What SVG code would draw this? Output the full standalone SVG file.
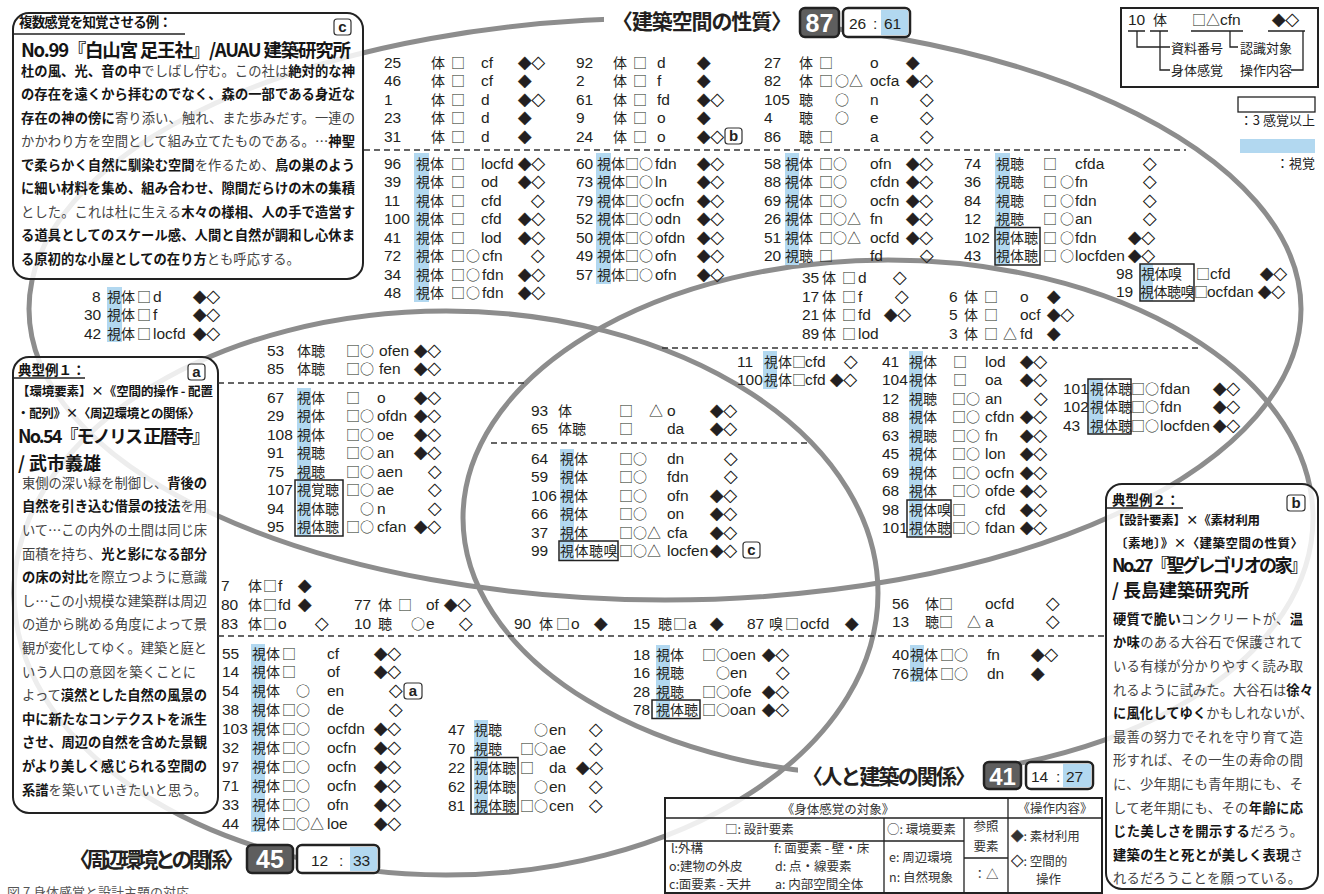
<svg xmlns="http://www.w3.org/2000/svg" width="1324" height="894" viewBox="0 0 1324 894">
<defs>
<style>
.ell{fill:none;stroke:#8d8d8d;stroke-width:5}
.dash{stroke:#333;stroke-width:1.5;stroke-dasharray:6 4;fill:none}
.hl{fill:#b2d8f0}
.sb{fill:none;stroke:#222;stroke-width:1.5}
.r{font-family:"Liberation Sans","Noto Sans CJK JP",sans-serif;font-size:15.5px;fill:#231f20}
.k{font-family:"Noto Sans CJK JP",sans-serif;font-size:14px}
.d{font-family:"Noto Sans CJK JP",sans-serif;font-size:13.5px;stroke:#231f20;stroke-width:.4}
.box{fill:#fff;fill-opacity:.84;stroke:#222;stroke-width:2}
.p{font-family:"Noto Sans CJK JP",sans-serif;font-size:13.3px;fill:#444}
.b{font-weight:700;fill:#151515}
.h{font-family:"Noto Sans CJK JP",sans-serif;font-weight:700;fill:#151515}
.lab{font-family:"Noto Sans CJK JP",sans-serif;font-weight:700;font-size:21px;fill:#231f20}
.tg rect{fill:#fff;stroke:#333;stroke-width:1.2}
.tg text{font-family:"Liberation Sans",sans-serif;font-weight:700;font-size:15px;text-anchor:middle;fill:#222}
.tb{font-family:"Noto Sans CJK JP",sans-serif;font-size:12.5px;fill:#333}
.sk{stroke:#333;stroke-width:.4}
.lg{font-family:"Noto Sans CJK JP",sans-serif;font-size:13px;fill:#222}
.ln{stroke:#222;stroke-width:1.3;fill:none}
</style>
</defs>
<rect width="1324" height="894" fill="#fff"/>

<g id="set-outlines" class="ell">
<ellipse cx="665" cy="309" rx="636" ry="291"/>
<ellipse cx="888" cy="518" rx="425" ry="258"/>
<ellipse cx="446" cy="593" rx="432" ry="282"/>
</g>
<g id="label-masks" fill="#fff">
<rect x="604" y="4" width="200" height="32"/>
<rect x="798" y="764" width="186" height="26"/>
</g>

<g id="box-c">
<rect class="box" x="13" y="13" width="350" height="266" rx="16"/>
<text class="h" x="19" y="27" font-size="13.5" textLength="153">複数感覚を知覚させる例：</text>
<line class="ln" x1="13" y1="34" x2="185" y2="34"/>
<g class="tg"><rect x="334" y="19" width="17" height="16" rx="3"/><text x="342.5" y="32">c</text></g>
<text class="h" x="21" y="57" font-size="18.5" textLength="330">No.99『白山宮 足王社』/AUAU 建築研究所</text>
<text class="p" x="21" y="75.7" textLength="334"><tspan class="b">杜の風、光、音の中</tspan>でしばし佇む。この社は<tspan class="b">絶対的な神</tspan></text>
<text class="p" x="21" y="99.2" textLength="334"><tspan class="b">の存在を遠くから拝むのでなく、森の一部である身近な</tspan></text>
<text class="p" x="21" y="122.7" textLength="334"><tspan class="b">存在の神の傍に</tspan>寄り添い、触れ、また歩みだす。一連の</text>
<text class="p" x="21" y="146.2" textLength="334">かかわり方を空間として組み立てたものである。…<tspan class="b">神聖</tspan></text>
<text class="p" x="21" y="169.7" textLength="334"><tspan class="b">で柔らかく自然に馴染む空間</tspan>を作るため、<tspan class="b">鳥の巣のよう</tspan></text>
<text class="p" x="21" y="193.2" textLength="334"><tspan class="b">に細い材料を集め、組み合わせ、隙間だらけの木の集積</tspan></text>
<text class="p" x="21" y="216.7" textLength="334">とした。これは杜に生える<tspan class="b">木々の様相、人の手で造営す</tspan></text>
<text class="p" x="21" y="240.2" textLength="334"><tspan class="b">る道具としてのスケール感、人間と自然が調和し心休ま</tspan></text>
<text class="p" x="21" y="263.7"><tspan class="b">る原初的な小屋としての在り方</tspan>とも呼応する。</text>
</g>

<g id="box-a">
<rect class="box" x="13" y="357" width="205" height="456" rx="16"/>
<text class="h" x="18" y="375" font-size="13.5">典型例１：</text>
<line class="ln" x1="13" y1="378" x2="85" y2="378"/>
<g class="tg"><rect x="188" y="364" width="17" height="16" rx="3"/><text x="196.5" y="377">a</text></g>
<text class="h" x="17" y="395.5" font-size="12.5" textLength="196">【環境要素】×《空間的操作 - 配置</text>
<text class="h" x="17" y="417.5" font-size="12.5" textLength="183">・配列》×〈周辺環境との関係〉</text>
<text class="h" x="18" y="442.5" font-size="18" textLength="192">No.54『モノリス 正暦寺』</text>
<text class="h" x="18" y="469.5" font-size="18">/ 武市義雄</text>
<text class="p" x="22" y="487.7" textLength="185">東側の深い緑を制御し、<tspan class="b">背後の</tspan></text>
<text class="p" x="22" y="511.3" textLength="185"><tspan class="b">自然を引き込む借景の技法</tspan>を用</text>
<text class="p" x="22" y="534.9" textLength="185">いて…この内外の土間は同じ床</text>
<text class="p" x="22" y="558.5" textLength="185">面積を持ち、<tspan class="b">光と影になる部分</tspan></text>
<text class="p" x="22" y="582.1" textLength="185"><tspan class="b">の床の対比</tspan>を際立つように意識</text>
<text class="p" x="22" y="605.7" textLength="185">し…この小規模な建築群は周辺</text>
<text class="p" x="22" y="629.3" textLength="185">の道から眺める角度によって景</text>
<text class="p" x="22" y="652.9" textLength="185">観が変化してゆく。建築と庭と</text>
<text class="p" x="22" y="676.5" textLength="174">いう人口の意図を築くことに</text>
<text class="p" x="22" y="700.1" textLength="185">よって<tspan class="b">漠然とした自然の風景の</tspan></text>
<text class="p" x="22" y="723.7" textLength="185"><tspan class="b">中に新たなコンテクストを派生</tspan></text>
<text class="p" x="22" y="747.3" textLength="185"><tspan class="b">させ、周辺の自然を含めた景観</tspan></text>
<text class="p" x="22" y="770.9" textLength="185"><tspan class="b">がより美しく感じられる空間の</tspan></text>
<text class="p" x="22" y="794.5" textLength="185"><tspan class="b">系譜</tspan>を築いていきたいと思う。</text>
</g>

<g id="box-b">
<rect class="box" x="1106" y="484" width="212" height="405" rx="16"/>
<text class="h" x="1112" y="505" font-size="13.5">典型例２：</text>
<line class="ln" x1="1106" y1="508" x2="1183" y2="508"/>
<g class="tg"><rect x="1287" y="495" width="18" height="16" rx="3"/><text x="1296" y="508">b</text></g>
<text class="h" x="1112" y="524.5" font-size="12.5" textLength="148">【設計要素】×《素材利用</text>
<text class="h" x="1115" y="547.5" font-size="12.5" textLength="188">〔素地〕》×〈建築空間の性質〉</text>
<text class="h" x="1112" y="571.5" font-size="18" textLength="196">No.27『聖グレゴリオの家』</text>
<text class="h" x="1112" y="596.5" font-size="18">/ 長島建築研究所</text>
<text class="p" x="1113" y="623.7" textLength="190"><tspan class="b">硬質で脆い</tspan>コンクリートが、<tspan class="b">温</tspan></text>
<text class="p" x="1113" y="647.3" textLength="190"><tspan class="b">か味</tspan>のある大谷石で保護されて</text>
<text class="p" x="1113" y="670.9" textLength="190">いる有様が分かりやすく読み取</text>
<text class="p" x="1113" y="694.5" textLength="200">れるように試みた。大谷石は<tspan class="b">徐々</tspan></text>
<text class="p" x="1113" y="718.1" textLength="200"><tspan class="b">に風化してゆく</tspan>かもしれないが、</text>
<text class="p" x="1113" y="741.7" textLength="190">最善の努力でそれを守り育て造</text>
<text class="p" x="1113" y="765.3" textLength="190">形すれば、その一生の寿命の間</text>
<text class="p" x="1113" y="788.9" textLength="190">に、少年期にも青年期にも、そ</text>
<text class="p" x="1113" y="812.5" textLength="190">して老年期にも、その<tspan class="b">年齢に応</tspan></text>
<text class="p" x="1113" y="836.1" textLength="190"><tspan class="b">じた美しさを開示する</tspan>だろう。</text>
<text class="p" x="1113" y="859.7" textLength="190"><tspan class="b">建築の生と死とが美しく表現</tspan>さ</text>
<text class="p" x="1113" y="883.3" textLength="188">れるだろうことを願っている。</text>
</g>

<g id="legend">
<rect x="1121" y="8" width="197" height="79" fill="#fff" stroke="#222" stroke-width="2"/>
<text class="r" y="25"><tspan x="1128">10</tspan><tspan class="k" x="1153">体</tspan><tspan class="k" x="1192">□△</tspan><tspan x="1220">cfn</tspan><tspan class="d" x="1272">◆◇</tspan></text>
<path class="ln" d="M1128 31H1145M1150 31H1168M1191 31H1243M1268 31H1305"/>
<path class="ln" d="M1137 31V47H1170M1160 31V70H1170M1230 31V47H1238M1291 70H1303V31"/>
<text class="lg" x="1171" y="52.5">資料番号</text>
<text class="lg" x="1240" y="52.5">認識対象</text>
<text class="lg" x="1171" y="75">身体感覚</text>
<text class="lg" x="1240" y="75">操作内容</text>
<rect x="1238" y="97" width="77" height="15" fill="#fff" stroke="#222" stroke-width="1.3"/>
<text class="lg" x="1315" y="124.5" text-anchor="end">：3 感覚以上</text>
<rect class="hl" x="1240" y="139" width="75" height="14"/>
<text class="lg" x="1315" y="168" text-anchor="end">：視覚</text>
</g>

<g id="table">
<rect x="665" y="798" width="437" height="95" fill="#fff" fill-opacity=".85" stroke="#222" stroke-width="2"/>
<path class="ln" d="M665 818H1102M665 841H964M964 858H1008M884 818V893M964 818V893M1008 798V893"/>
<text class="tb" x="838" y="813.5" text-anchor="middle">《身体感覚の対象》</text>
<text class="tb" x="725" y="833.5">□: 設計要素</text>
<text class="tb" x="671" y="852.5">l:外構</text>
<text class="tb" x="774" y="852.5">f: 面要素 - 壁・床</text>
<text class="tb" x="669" y="870.5">o:建物の外皮</text>
<text class="tb" x="775" y="870.5">d: 点・線要素</text>
<text class="tb" x="669" y="888.5">c:面要素 - 天井</text>
<text class="tb" x="775" y="888.5">a: 内部空間全体</text>
<text class="tb" x="887" y="833.5">○: 環境要素</text>
<text class="tb" x="889" y="862">e: 周辺環境</text>
<text class="tb" x="889" y="882">n: 自然現象</text>
<text class="tb" x="986" y="830.5" text-anchor="middle">参照</text>
<text class="tb" x="986" y="850.5" text-anchor="middle">要素</text>
<text class="tb" x="986" y="878.5" text-anchor="middle">：△</text>
<text class="tb" x="1055" y="812.5" text-anchor="middle">《操作内容》</text>
<text class="tb" x="1011" y="840.5"><tspan class="sk">◆</tspan>: 素材利用</text>
<text class="tb" x="1011" y="865.5"><tspan class="sk">◇</tspan>: 空間的</text>
<text class="tb" x="1036" y="883.5">操作</text>
</g>

<g id="visual-marks">
<rect class="hl" x="414" y="153" width="15" height="149"/>
<rect class="hl" x="596" y="153" width="15" height="131"/>
<rect class="hl" x="785" y="153" width="14" height="112"/>
<rect class="hl" x="995" y="153" width="15" height="112"/>
<rect class="hl" x="107" y="287" width="15" height="55"/>
<rect class="hl" x="763" y="351" width="14" height="38"/>
<rect class="hl" x="909" y="351" width="14" height="186"/>
<rect class="hl" x="1089" y="379" width="14" height="55"/>
<rect class="hl" x="1140" y="264" width="13" height="37"/>
<rect class="hl" x="297" y="388" width="14" height="148"/>
<rect class="hl" x="560" y="449" width="14" height="111"/>
<rect class="hl" x="251" y="644" width="14" height="188"/>
<rect class="hl" x="656" y="645" width="14" height="74"/>
<rect class="hl" x="474" y="720" width="14" height="94"/>
<rect class="hl" x="910" y="645" width="14" height="37"/>
</g>
<g id="three-sense-marks" class="sb">
<rect x="995" y="227.5" width="45" height="37.5"/>
<rect x="1140" y="264" width="54" height="37"/>
<rect x="907" y="500" width="44" height="37"/>
<rect x="1088" y="379" width="43" height="55"/>
<rect x="295" y="480" width="48" height="56"/>
<rect x="559" y="541" width="59" height="19.5"/>
<rect x="652" y="700" width="48" height="18.5"/>
<rect x="471" y="757.5" width="47" height="56.5"/>
</g>
<g id="dividers" class="dash">
<line x1="364" y1="150" x2="1186" y2="150"/>
<line x1="662" y1="348" x2="1200" y2="348"/>
<line x1="218" y1="383" x2="527" y2="383"/>
<line x1="491" y1="443" x2="809" y2="443"/>
<line x1="218" y1="636" x2="1106" y2="636"/>
</g>

<g id="rows-top" class="r">
<text y="67.5"><tspan x="384">25</tspan><tspan class="k" x="431">体</tspan><tspan class="k" x="451">□</tspan><tspan x="481">cf</tspan><tspan class="d" x="518">◆◇</tspan></text>
<text y="86"><tspan x="384">46</tspan><tspan class="k" x="431">体</tspan><tspan class="k" x="451">□</tspan><tspan x="481">cf</tspan><tspan class="d" x="518">◆</tspan></text>
<text y="104.5"><tspan x="384">1</tspan><tspan class="k" x="431">体</tspan><tspan class="k" x="451">□</tspan><tspan x="481">d</tspan><tspan class="d" x="518">◆◇</tspan></text>
<text y="123"><tspan x="384">23</tspan><tspan class="k" x="431">体</tspan><tspan class="k" x="451">□</tspan><tspan x="481">d</tspan><tspan class="d" x="518">◆</tspan></text>
<text y="141.5"><tspan x="384">31</tspan><tspan class="k" x="431">体</tspan><tspan class="k" x="451">□</tspan><tspan x="481">d</tspan><tspan class="d" x="518">◆</tspan></text>
<text y="168.5"><tspan x="384">96</tspan><tspan class="k" x="416">視体</tspan><tspan class="k" x="451">□</tspan><tspan x="481">locfd</tspan><tspan class="d" x="518">◆◇</tspan></text>
<text y="187"><tspan x="384">39</tspan><tspan class="k" x="416">視体</tspan><tspan class="k" x="451">□</tspan><tspan x="481">od</tspan><tspan class="d" x="518">◆◇</tspan></text>
<text y="205.5"><tspan x="384">11</tspan><tspan class="k" x="416">視体</tspan><tspan class="k" x="451">□</tspan><tspan x="481">cfd</tspan><tspan class="d" x="531">◇</tspan></text>
<text y="224"><tspan x="384">100</tspan><tspan class="k" x="416">視体</tspan><tspan class="k" x="451">□</tspan><tspan x="481">cfd</tspan><tspan class="d" x="518">◆◇</tspan></text>
<text y="242.5"><tspan x="384">41</tspan><tspan class="k" x="416">視体</tspan><tspan class="k" x="451">□</tspan><tspan x="481">lod</tspan><tspan class="d" x="518">◆◇</tspan></text>
<text y="261"><tspan x="384">72</tspan><tspan class="k" x="416">視体</tspan><tspan class="k" x="451">□</tspan><tspan class="k" x="466">○</tspan><tspan x="482">cfn</tspan><tspan class="d" x="531">◇</tspan></text>
<text y="279.5"><tspan x="384">34</tspan><tspan class="k" x="416">視体</tspan><tspan class="k" x="451">□</tspan><tspan class="k" x="466">○</tspan><tspan x="482">fdn</tspan><tspan class="d" x="518">◆◇</tspan></text>
<text y="298"><tspan x="384">48</tspan><tspan class="k" x="416">視体</tspan><tspan class="k" x="451">□</tspan><tspan class="k" x="466">○</tspan><tspan x="482">fdn</tspan><tspan class="d" x="518">◆◇</tspan></text>

<text y="67.5"><tspan x="576">92</tspan><tspan class="k" x="613">体</tspan><tspan class="k" x="633">□</tspan><tspan x="657">d</tspan><tspan class="d" x="697">◆</tspan></text>
<text y="86"><tspan x="576">2</tspan><tspan class="k" x="613">体</tspan><tspan class="k" x="633">□</tspan><tspan x="657">f</tspan><tspan class="d" x="697">◆</tspan></text>
<text y="104.5"><tspan x="576">61</tspan><tspan class="k" x="613">体</tspan><tspan class="k" x="633">□</tspan><tspan x="657">fd</tspan><tspan class="d" x="697">◆◇</tspan></text>
<text y="123"><tspan x="576">9</tspan><tspan class="k" x="613">体</tspan><tspan class="k" x="633">□</tspan><tspan x="657">o</tspan><tspan class="d" x="697">◆</tspan></text>
<text y="141.5"><tspan x="576">24</tspan><tspan class="k" x="613">体</tspan><tspan class="k" x="633">□</tspan><tspan x="657">o</tspan><tspan class="d" x="697">◆◇</tspan></text>
<text y="168.5"><tspan x="576">60</tspan><tspan class="k" x="597">視体</tspan><tspan class="k" x="625">□○</tspan><tspan x="655">fdn</tspan><tspan class="d" x="697">◆◇</tspan></text>
<text y="187"><tspan x="576">73</tspan><tspan class="k" x="597">視体</tspan><tspan class="k" x="625">□○</tspan><tspan x="655">ln</tspan><tspan class="d" x="697">◆◇</tspan></text>
<text y="205.5"><tspan x="576">79</tspan><tspan class="k" x="597">視体</tspan><tspan class="k" x="625">□○</tspan><tspan x="655">ocfn</tspan><tspan class="d" x="697">◆◇</tspan></text>
<text y="224"><tspan x="576">52</tspan><tspan class="k" x="597">視体</tspan><tspan class="k" x="625">□○</tspan><tspan x="655">odn</tspan><tspan class="d" x="697">◆◇</tspan></text>
<text y="242.5"><tspan x="576">50</tspan><tspan class="k" x="597">視体</tspan><tspan class="k" x="625">□○</tspan><tspan x="655">ofdn</tspan><tspan class="d" x="697">◆◇</tspan></text>
<text y="261"><tspan x="576">49</tspan><tspan class="k" x="597">視体</tspan><tspan class="k" x="625">□○</tspan><tspan x="655">ofn</tspan><tspan class="d" x="697">◆◇</tspan></text>
<text y="279.5"><tspan x="576">57</tspan><tspan class="k" x="597">視体</tspan><tspan class="k" x="625">□○</tspan><tspan x="655">ofn</tspan><tspan class="d" x="697">◆◇</tspan></text>

<text y="67.5"><tspan x="764">27</tspan><tspan class="k" x="799">体</tspan><tspan class="k" x="819">□</tspan><tspan x="870">o</tspan><tspan class="d" x="906">◆</tspan></text>
<text y="86"><tspan x="764">82</tspan><tspan class="k" x="799">体</tspan><tspan class="k" x="819">□</tspan><tspan class="k" x="835">○△</tspan><tspan x="870">ocfa</tspan><tspan class="d" x="906">◆◇</tspan></text>
<text y="104.5"><tspan x="764">105</tspan><tspan class="k" x="799">聴</tspan><tspan class="k" x="835">○</tspan><tspan x="870">n</tspan><tspan class="d" x="920">◇</tspan></text>
<text y="123"><tspan x="764">4</tspan><tspan class="k" x="799">聴</tspan><tspan class="k" x="835">○</tspan><tspan x="870">e</tspan><tspan class="d" x="920">◇</tspan></text>
<text y="141.5"><tspan x="764">86</tspan><tspan class="k" x="799">聴</tspan><tspan class="k" x="819">□</tspan><tspan x="870">a</tspan><tspan class="d" x="920">◇</tspan></text>
<text y="168.5"><tspan x="764">58</tspan><tspan class="k" x="785">視体</tspan><tspan class="k" x="819">□○</tspan><tspan x="870">ofn</tspan><tspan class="d" x="906">◆◇</tspan></text>
<text y="187"><tspan x="764">88</tspan><tspan class="k" x="785">視体</tspan><tspan class="k" x="819">□○</tspan><tspan x="870">cfdn</tspan><tspan class="d" x="906">◆◇</tspan></text>
<text y="205.5"><tspan x="764">69</tspan><tspan class="k" x="785">視体</tspan><tspan class="k" x="819">□○</tspan><tspan x="870">ocfn</tspan><tspan class="d" x="906">◆◇</tspan></text>
<text y="224"><tspan x="764">26</tspan><tspan class="k" x="785">視体</tspan><tspan class="k" x="819">□○△</tspan><tspan x="870">fn</tspan><tspan class="d" x="906">◆◇</tspan></text>
<text y="242.5"><tspan x="764">51</tspan><tspan class="k" x="785">視体</tspan><tspan class="k" x="819">□○△</tspan><tspan x="870">ocfd</tspan><tspan class="d" x="906">◆◇</tspan></text>
<text y="261"><tspan x="764">20</tspan><tspan class="k" x="785">視聴</tspan><tspan class="k" x="819">□</tspan><tspan x="870">fd</tspan><tspan class="d" x="920">◇</tspan></text>

<text y="168.5"><tspan x="964">74</tspan><tspan class="k" x="996">視聴</tspan><tspan class="k" x="1043">□</tspan><tspan x="1075">cfda</tspan><tspan class="d" x="1143">◇</tspan></text>
<text y="187"><tspan x="964">36</tspan><tspan class="k" x="996">視聴</tspan><tspan class="k" x="1043">□</tspan><tspan class="k" x="1060">○</tspan><tspan x="1075">fn</tspan><tspan class="d" x="1143">◇</tspan></text>
<text y="205.5"><tspan x="964">84</tspan><tspan class="k" x="996">視聴</tspan><tspan class="k" x="1043">□</tspan><tspan class="k" x="1060">○</tspan><tspan x="1075">fdn</tspan><tspan class="d" x="1143">◇</tspan></text>
<text y="224"><tspan x="964">12</tspan><tspan class="k" x="996">視聴</tspan><tspan class="k" x="1043">□</tspan><tspan class="k" x="1060">○</tspan><tspan x="1075">an</tspan><tspan class="d" x="1143">◇</tspan></text>
<text y="242.5"><tspan x="964">102</tspan><tspan class="k" x="996">視体聴</tspan><tspan class="k" x="1043">□</tspan><tspan class="k" x="1060">○</tspan><tspan x="1075">fdn</tspan><tspan class="d" x="1128">◆◇</tspan></text>
<text y="261"><tspan x="964">43</tspan><tspan class="k" x="996">視体聴</tspan><tspan class="k" x="1043">□</tspan><tspan class="k" x="1060">○</tspan><tspan x="1075">locfden</tspan><tspan class="d" x="1128">◆◇</tspan></text>

<text y="278.5"><tspan x="1116">98</tspan><tspan class="k" x="1141 1154.5 1168">視体嗅</tspan><tspan class="k" x="1196">□</tspan><tspan x="1210">cfd</tspan><tspan class="d" x="1260">◆◇</tspan></text>
<text y="297"><tspan x="1116">19</tspan><tspan class="k" x="1140 1153.5 1167 1180.5">視体聴嗅</tspan><tspan class="k" x="1194">□</tspan><tspan x="1207">ocfdan</tspan><tspan class="d" x="1258">◆◇</tspan></text>

<text y="301.5"><tspan x="92">8</tspan><tspan class="k" x="107">視体</tspan><tspan class="k" x="137">□</tspan><tspan x="153">d</tspan><tspan class="d" x="193">◆◇</tspan></text>
<text y="320"><tspan x="84">30</tspan><tspan class="k" x="107">視体</tspan><tspan class="k" x="137">□</tspan><tspan x="153">f</tspan><tspan class="d" x="193">◆◇</tspan></text>
<text y="338.5"><tspan x="84">42</tspan><tspan class="k" x="107">視体</tspan><tspan class="k" x="137">□</tspan><tspan x="153">locfd</tspan><tspan class="d" x="193">◆◇</tspan></text>
</g>

<g id="rows-middle" class="r">
<text y="282.5"><tspan x="802">35</tspan><tspan class="k" x="822">体</tspan><tspan class="k" x="842">□</tspan><tspan x="858">d</tspan><tspan class="d" x="893">◇</tspan></text>
<text y="301.5"><tspan x="802">17</tspan><tspan class="k" x="822">体</tspan><tspan class="k" x="842">□</tspan><tspan x="858">f</tspan><tspan class="d" x="895">◇</tspan></text>
<text y="320"><tspan x="802">21</tspan><tspan class="k" x="822">体</tspan><tspan class="k" x="842">□</tspan><tspan x="858">fd</tspan><tspan class="d" x="884">◆◇</tspan></text>
<text y="338.5"><tspan x="802">89</tspan><tspan class="k" x="822">体</tspan><tspan class="k" x="842">□</tspan><tspan x="858">lod</tspan></text>
<text y="301.5"><tspan x="949">6</tspan><tspan class="k" x="964">体</tspan><tspan class="k" x="984">□</tspan><tspan x="1020">o</tspan><tspan class="d" x="1047">◆</tspan></text>
<text y="320"><tspan x="949">5</tspan><tspan class="k" x="964">体</tspan><tspan class="k" x="984">□</tspan><tspan x="1020">ocf</tspan><tspan class="d" x="1047">◆◇</tspan></text>
<text y="338.5"><tspan x="949">3</tspan><tspan class="k" x="964">体</tspan><tspan class="k" x="984">□</tspan><tspan class="k" x="1003">△</tspan><tspan x="1020">fd</tspan><tspan class="d" x="1047">◆</tspan></text>

<text y="366.5"><tspan x="737">11</tspan><tspan class="k" x="764">視体</tspan><tspan class="k" x="792">□</tspan><tspan x="805">cfd</tspan><tspan class="d" x="844">◇</tspan></text>
<text y="385"><tspan x="737">100</tspan><tspan class="k" x="764">視体</tspan><tspan class="k" x="792">□</tspan><tspan x="805">cfd</tspan><tspan class="d" x="830">◆◇</tspan></text>

<text y="366.5"><tspan x="882">41</tspan><tspan class="k" x="909">視体</tspan><tspan class="k" x="953">□</tspan><tspan x="985">lod</tspan><tspan class="d" x="1020">◆◇</tspan></text>
<text y="385"><tspan x="882">104</tspan><tspan class="k" x="909">視体</tspan><tspan class="k" x="953">□</tspan><tspan x="985">oa</tspan><tspan class="d" x="1020">◆◇</tspan></text>
<text y="403.5"><tspan x="882">12</tspan><tspan class="k" x="909">視聴</tspan><tspan class="k" x="952">□○</tspan><tspan x="985">an</tspan><tspan class="d" x="1034">◇</tspan></text>
<text y="422"><tspan x="882">88</tspan><tspan class="k" x="909">視体</tspan><tspan class="k" x="952">□○</tspan><tspan x="985">cfdn</tspan><tspan class="d" x="1020">◆◇</tspan></text>
<text y="440.5"><tspan x="882">63</tspan><tspan class="k" x="909">視聴</tspan><tspan class="k" x="952">□○</tspan><tspan x="985">fn</tspan><tspan class="d" x="1020">◆◇</tspan></text>
<text y="459"><tspan x="882">45</tspan><tspan class="k" x="909">視体</tspan><tspan class="k" x="952">□○</tspan><tspan x="985">lon</tspan><tspan class="d" x="1020">◆◇</tspan></text>
<text y="477.5"><tspan x="882">69</tspan><tspan class="k" x="909">視体</tspan><tspan class="k" x="952">□○</tspan><tspan x="985">ocfn</tspan><tspan class="d" x="1020">◆◇</tspan></text>
<text y="496"><tspan x="882">68</tspan><tspan class="k" x="909">視体</tspan><tspan class="k" x="952">□○</tspan><tspan x="985">ofde</tspan><tspan class="d" x="1020">◆◇</tspan></text>
<text y="514.5"><tspan x="882">98</tspan><tspan class="k" x="909">視体嗅</tspan><tspan class="k" x="952">□</tspan><tspan x="985">cfd</tspan><tspan class="d" x="1020">◆◇</tspan></text>
<text y="533"><tspan x="882">101</tspan><tspan class="k" x="909">視体聴</tspan><tspan class="k" x="952">□○</tspan><tspan x="985">fdan</tspan><tspan class="d" x="1020">◆◇</tspan></text>

<text y="393.5"><tspan x="1063">101</tspan><tspan class="k" x="1090">視体聴</tspan><tspan class="k" x="1131">□○</tspan><tspan x="1160">fdan</tspan><tspan class="d" x="1213">◆◇</tspan></text>
<text y="412"><tspan x="1063">102</tspan><tspan class="k" x="1090">視体聴</tspan><tspan class="k" x="1131">□○</tspan><tspan x="1160">fdn</tspan><tspan class="d" x="1213">◆◇</tspan></text>
<text y="430.5"><tspan x="1063">43</tspan><tspan class="k" x="1090">視体聴</tspan><tspan class="k" x="1131">□○</tspan><tspan x="1160">locfden</tspan><tspan class="d" x="1213">◆◇</tspan></text>

<text y="355.5"><tspan x="267">53</tspan><tspan class="k" x="297">体聴</tspan><tspan class="k" x="346">□○</tspan><tspan x="379">ofen</tspan><tspan class="d" x="414">◆◇</tspan></text>
<text y="374"><tspan x="267">85</tspan><tspan class="k" x="297">体聴</tspan><tspan class="k" x="346">□○</tspan><tspan x="379">fen</tspan><tspan class="d" x="414">◆◇</tspan></text>
<text y="402.5"><tspan x="267">67</tspan><tspan class="k" x="297">視体</tspan><tspan class="k" x="346">□</tspan><tspan x="377">o</tspan><tspan class="d" x="414">◆◇</tspan></text>
<text y="421"><tspan x="267">29</tspan><tspan class="k" x="297">視体</tspan><tspan class="k" x="346">□○</tspan><tspan x="377">ofdn</tspan><tspan class="d" x="414">◆◇</tspan></text>
<text y="439.5"><tspan x="267">108</tspan><tspan class="k" x="297">視体</tspan><tspan class="k" x="346">□○</tspan><tspan x="377">oe</tspan><tspan class="d" x="414">◆◇</tspan></text>
<text y="458"><tspan x="267">91</tspan><tspan class="k" x="297">視聴</tspan><tspan class="k" x="346">□○</tspan><tspan x="377">an</tspan><tspan class="d" x="414">◆◇</tspan></text>
<text y="476.5"><tspan x="267">75</tspan><tspan class="k" x="297">視聴</tspan><tspan class="k" x="346">□○</tspan><tspan x="377">aen</tspan><tspan class="d" x="428">◇</tspan></text>
<text y="495"><tspan x="267">107</tspan><tspan class="k" x="297">視覚聴</tspan><tspan class="k" x="346">□○</tspan><tspan x="377">ae</tspan><tspan class="d" x="428">◇</tspan></text>
<text y="513.5"><tspan x="267">94</tspan><tspan class="k" x="297">視体聴</tspan><tspan class="k" x="360">○</tspan><tspan x="377">n</tspan><tspan class="d" x="428">◇</tspan></text>
<text y="532"><tspan x="267">95</tspan><tspan class="k" x="297">視体聴</tspan><tspan class="k" x="346">□○</tspan><tspan x="377">cfan</tspan><tspan class="d" x="414">◆◇</tspan></text>

<text y="415.5"><tspan x="531">93</tspan><tspan class="k" x="558">体</tspan><tspan class="k" x="619">□</tspan><tspan class="k" x="649">△</tspan><tspan x="667">o</tspan><tspan class="d" x="710">◆◇</tspan></text>
<text y="433.5"><tspan x="531">65</tspan><tspan class="k" x="558">体聴</tspan><tspan class="k" x="619">□</tspan><tspan x="667">da</tspan><tspan class="d" x="710">◆◇</tspan></text>
<text y="463.5"><tspan x="531">64</tspan><tspan class="k" x="560">視体</tspan><tspan class="k" x="619">□○</tspan><tspan x="667">dn</tspan><tspan class="d" x="724">◇</tspan></text>
<text y="482"><tspan x="531">59</tspan><tspan class="k" x="560">視体</tspan><tspan class="k" x="619">□○</tspan><tspan x="667">fdn</tspan><tspan class="d" x="724">◇</tspan></text>
<text y="500.5"><tspan x="531">106</tspan><tspan class="k" x="560">視体</tspan><tspan class="k" x="619">□○</tspan><tspan x="667">ofn</tspan><tspan class="d" x="710">◆◇</tspan></text>
<text y="519"><tspan x="531">66</tspan><tspan class="k" x="560">視体</tspan><tspan class="k" x="619">□○</tspan><tspan x="667">on</tspan><tspan class="d" x="710">◆◇</tspan></text>
<text y="537.5"><tspan x="531">37</tspan><tspan class="k" x="560">視体</tspan><tspan class="k" x="619">□○△</tspan><tspan x="667">cfa</tspan><tspan class="d" x="710">◆◇</tspan></text>
<text y="556"><tspan x="531">99</tspan><tspan class="k" x="560 574.5 589 603.5">視体聴嗅</tspan><tspan class="k" x="619">□○△</tspan><tspan x="667">locfen</tspan><tspan class="d" x="710">◆◇</tspan></text>
</g>

<g id="rows-bottom" class="r">
<text y="590.5"><tspan x="221">7</tspan><tspan class="k" x="248">体</tspan><tspan class="k" x="263">□</tspan><tspan x="278">f</tspan><tspan class="d" x="298">◆</tspan></text>
<text y="609.5"><tspan x="221">80</tspan><tspan class="k" x="248">体</tspan><tspan class="k" x="263">□</tspan><tspan x="278">fd</tspan><tspan class="d" x="298">◆</tspan></text>
<text y="628.5"><tspan x="221">83</tspan><tspan class="k" x="248">体</tspan><tspan class="k" x="263">□</tspan><tspan x="278">o</tspan><tspan class="d" x="315">◇</tspan></text>
<text y="609.5"><tspan x="354">77</tspan><tspan class="k" x="378">体</tspan><tspan class="k" x="398">□</tspan><tspan x="426">of</tspan><tspan class="d" x="444">◆◇</tspan></text>
<text y="628.5"><tspan x="354">10</tspan><tspan class="k" x="378">聴</tspan><tspan class="k" x="411">○</tspan><tspan x="426">e</tspan><tspan class="d" x="459">◇</tspan></text>
<text y="628.5"><tspan x="514">90</tspan><tspan class="k" x="539">体</tspan><tspan class="k" x="556">□</tspan><tspan x="571">o</tspan><tspan class="d" x="594">◆</tspan></text>
<text y="628.5"><tspan x="633">15</tspan><tspan class="k" x="658">聴</tspan><tspan class="k" x="673">□</tspan><tspan x="688">a</tspan><tspan class="d" x="710">◆</tspan></text>
<text y="628.5"><tspan x="747">87</tspan><tspan class="k" x="769">嗅</tspan><tspan class="k" x="785">□</tspan><tspan x="800">ocfd</tspan><tspan class="d" x="845">◆</tspan></text>
<text y="608.5"><tspan x="892">56</tspan><tspan class="k" x="925">体</tspan><tspan class="k" x="939">□</tspan><tspan x="985">ocfd</tspan><tspan class="d" x="1046">◇</tspan></text>
<text y="626.5"><tspan x="892">13</tspan><tspan class="k" x="925">聴</tspan><tspan class="k" x="939">□</tspan><tspan class="k" x="967">△</tspan><tspan x="985">a</tspan><tspan class="d" x="1046">◇</tspan></text>

<text y="658.5"><tspan x="222">55</tspan><tspan class="k" x="252">視体</tspan><tspan class="k" x="282">□</tspan><tspan x="327">cf</tspan><tspan class="d" x="374">◆◇</tspan></text>
<text y="677.4"><tspan x="222">14</tspan><tspan class="k" x="252">視体</tspan><tspan class="k" x="282">□</tspan><tspan x="327">of</tspan><tspan class="d" x="374">◆◇</tspan></text>
<text y="696.3"><tspan x="222">54</tspan><tspan class="k" x="252">視体</tspan><tspan class="k" x="296">○</tspan><tspan x="327">en</tspan><tspan class="d" x="389">◇</tspan></text>
<text y="715.2"><tspan x="222">38</tspan><tspan class="k" x="252">視体</tspan><tspan class="k" x="282">□○</tspan><tspan x="327">de</tspan><tspan class="d" x="389">◇</tspan></text>
<text y="734.1"><tspan x="222">103</tspan><tspan class="k" x="252">視体</tspan><tspan class="k" x="282">□○</tspan><tspan x="327">ocfdn</tspan><tspan class="d" x="374">◆◇</tspan></text>
<text y="753"><tspan x="222">32</tspan><tspan class="k" x="252">視体</tspan><tspan class="k" x="282">□○</tspan><tspan x="327">ocfn</tspan><tspan class="d" x="374">◆◇</tspan></text>
<text y="771.9"><tspan x="222">97</tspan><tspan class="k" x="252">視体</tspan><tspan class="k" x="282">□○</tspan><tspan x="327">ocfn</tspan><tspan class="d" x="374">◆◇</tspan></text>
<text y="790.8"><tspan x="222">71</tspan><tspan class="k" x="252">視体</tspan><tspan class="k" x="282">□○</tspan><tspan x="327">ocfn</tspan><tspan class="d" x="374">◆◇</tspan></text>
<text y="809.7"><tspan x="222">33</tspan><tspan class="k" x="252">視体</tspan><tspan class="k" x="282">□○</tspan><tspan x="327">ofn</tspan><tspan class="d" x="374">◆◇</tspan></text>
<text y="828.6"><tspan x="222">44</tspan><tspan class="k" x="252">視体</tspan><tspan class="k" x="282">□○△</tspan><tspan x="327">loe</tspan><tspan class="d" x="374">◆◇</tspan></text>

<text y="659.5"><tspan x="633">18</tspan><tspan class="k" x="656">視体</tspan><tspan class="k" x="702">□○</tspan><tspan x="730">oen</tspan><tspan class="d" x="762">◆◇</tspan></text>
<text y="678"><tspan x="633">16</tspan><tspan class="k" x="656">視聴</tspan><tspan class="k" x="716">○</tspan><tspan x="730">en</tspan><tspan class="d" x="776">◇</tspan></text>
<text y="696.5"><tspan x="633">28</tspan><tspan class="k" x="656">視聴</tspan><tspan class="k" x="702">□○</tspan><tspan x="730">ofe</tspan><tspan class="d" x="762">◆◇</tspan></text>
<text y="715"><tspan x="633">78</tspan><tspan class="k" x="656">視体聴</tspan><tspan class="k" x="702">□○</tspan><tspan x="730">oan</tspan><tspan class="d" x="762">◆◇</tspan></text>

<text y="734.5"><tspan x="448">47</tspan><tspan class="k" x="474">視聴</tspan><tspan class="k" x="534">○</tspan><tspan x="549">en</tspan><tspan class="d" x="589">◇</tspan></text>
<text y="753.5"><tspan x="448">70</tspan><tspan class="k" x="474">視聴</tspan><tspan class="k" x="520">□○</tspan><tspan x="549">ae</tspan><tspan class="d" x="589">◇</tspan></text>
<text y="772.5"><tspan x="448">22</tspan><tspan class="k" x="474">視体聴</tspan><tspan class="k" x="520">□</tspan><tspan x="549">da</tspan><tspan class="d" x="576">◆◇</tspan></text>
<text y="791.5"><tspan x="448">62</tspan><tspan class="k" x="474">視体聴</tspan><tspan class="k" x="534">○</tspan><tspan x="549">en</tspan><tspan class="d" x="589">◇</tspan></text>
<text y="810.5"><tspan x="448">81</tspan><tspan class="k" x="474">視体聴</tspan><tspan class="k" x="520">□○</tspan><tspan x="549">cen</tspan><tspan class="d" x="589">◇</tspan></text>

<text y="659.5"><tspan x="892">40</tspan><tspan class="k" x="910">視体</tspan><tspan class="k" x="940">□○</tspan><tspan x="987">fn</tspan><tspan class="d" x="1031">◆◇</tspan></text>
<text y="678.5"><tspan x="892">76</tspan><tspan class="k" x="910">視体</tspan><tspan class="k" x="940">□○</tspan><tspan x="987">dn</tspan><tspan class="d" x="1031">◆</tspan></text>
</g>

<g id="case-tags" class="tg">
<rect x="725" y="128" width="17" height="16" rx="3"/><text x="733.5" y="141">b</text>
<rect x="743" y="542" width="17" height="16" rx="3"/><text x="751.5" y="555">c</text>
<rect x="404" y="683" width="18" height="16" rx="3"/><text x="413" y="696">a</text>
</g>

<g id="title-architecture">
<text class="lab" x="612" y="28.5" textLength="180">〈建築空間の性質〉</text>
<rect x="800" y="8" width="39" height="29" rx="5" fill="#5e5e5e" stroke="#222" stroke-width="2.5"/>
<text x="819.5" y="31.5" text-anchor="middle" font-family="Liberation Sans,sans-serif" font-weight="700" font-size="25" fill="#fff">87</text>
<rect x="843" y="8" width="67" height="29" rx="5" fill="#fff" stroke="#222" stroke-width="2.5"/>
<rect class="hl" x="881" y="10" width="27" height="25"/>
<text class="r" y="29" font-size="18"><tspan x="849">26</tspan><tspan x="873">:</tspan><tspan x="884">61</tspan></text>
</g>
<g id="title-human">
<text class="lab" x="802" y="783.5" textLength="174">〈人と建築の関係〉</text>
<rect x="984" y="762" width="37" height="27" rx="5" fill="#5e5e5e" stroke="#222" stroke-width="2.5"/>
<text x="1002.5" y="784.5" text-anchor="middle" font-family="Liberation Sans,sans-serif" font-weight="700" font-size="24" fill="#fff">41</text>
<rect x="1026" y="762" width="67" height="27" rx="5" fill="#fff" stroke="#222" stroke-width="2.5"/>
<rect class="hl" x="1063" y="764" width="28" height="23"/>
<text class="r" y="782" font-size="18"><tspan x="1031">14</tspan><tspan x="1056">:</tspan><tspan x="1066">27</tspan></text>
</g>
<g id="title-environment">
<text class="lab" x="69" y="866.5" textLength="175">〈周辺環境との関係〉</text>
<rect x="247" y="845" width="46" height="28" rx="5" fill="#5e5e5e" stroke="#222" stroke-width="2.5"/>
<text x="270" y="868" text-anchor="middle" font-family="Liberation Sans,sans-serif" font-weight="700" font-size="25" fill="#fff">45</text>
<rect x="297" y="845" width="82" height="28" rx="5" fill="#fff" stroke="#222" stroke-width="2.5"/>
<rect class="hl" x="350" y="847" width="27" height="24"/>
<text class="r" y="866" font-size="18"><tspan x="311">12</tspan><tspan x="339">:</tspan><tspan x="353">33</tspan></text>
</g>

<text x="7" y="897" font-family="Noto Sans CJK JP,sans-serif" font-size="13" fill="#555">図 7 身体感覚と設計主題の対応</text>
</svg>
